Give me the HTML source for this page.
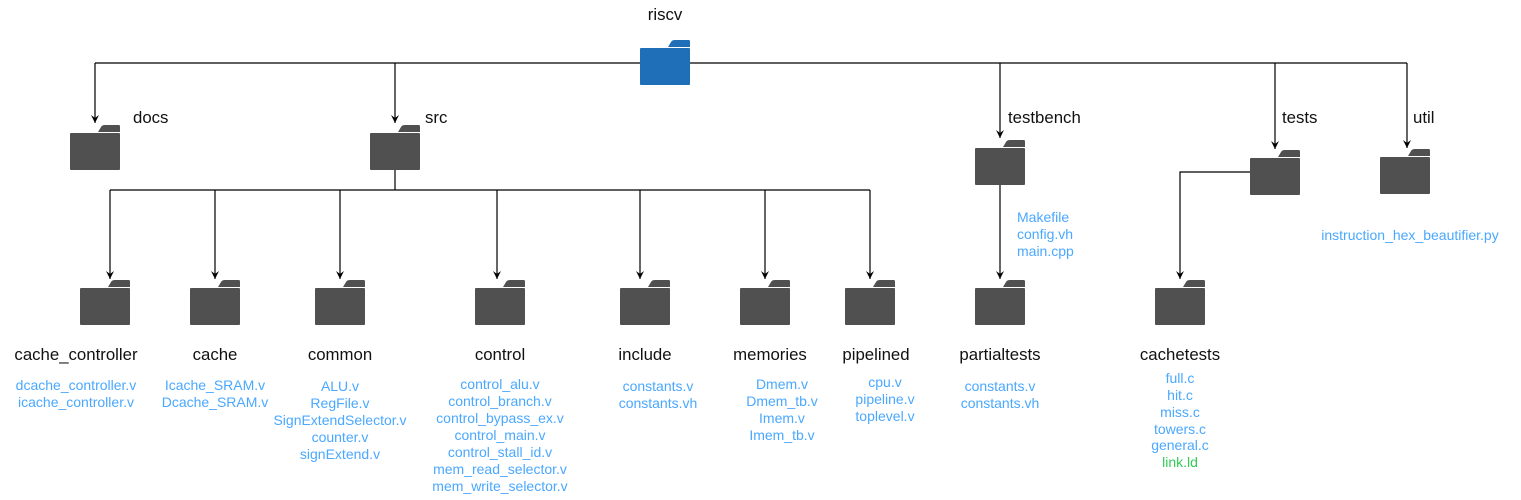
<!DOCTYPE html>
<html><head><meta charset="utf-8"><style>
html,body{margin:0;padding:0;background:#fff;}
svg{display:block;}
text{font-family:"Liberation Sans",Arial,sans-serif;}
.l{font-size:16.8px;fill:#111;}
.f{font-size:14px;fill:#4aa8ff;text-anchor:middle;}
</style></head><body>
<svg width="1521" height="500" viewBox="0 0 1521 500" xmlns="http://www.w3.org/2000/svg">
<defs>
<marker id="a" markerWidth="12" markerHeight="12" refX="8" refY="5" orient="auto" markerUnits="userSpaceOnUse">
<path d="M0,1 L8,5 L0,9 L3,5 Z" fill="#000"/>
</marker>
<g id="fold">
<path d="M28,7 L31,2 Q32,0 35,0 L49,0 Q50,0 50,2 L50,7 Z"/>
<rect x="0" y="8" width="50" height="37" rx="1"/>
</g>
</defs>
<g stroke="#000" stroke-width="1.2" fill="none">
<path d="M95,63 H1407"/>
<path d="M95,63 V123" marker-end="url(#a)"/>
<path d="M395,63 V123" marker-end="url(#a)"/>
<path d="M1000,63 V138" marker-end="url(#a)"/>
<path d="M1275,63 V149" marker-end="url(#a)"/>
<path d="M1407,63 V148" marker-end="url(#a)"/>
<path d="M395,170 V190 M110,190 H870"/>
<path d="M110,190 V279" marker-end="url(#a)"/>
<path d="M215,190 V279" marker-end="url(#a)"/>
<path d="M340,190 V279" marker-end="url(#a)"/>
<path d="M497,190 V279" marker-end="url(#a)"/>
<path d="M640,190 V279" marker-end="url(#a)"/>
<path d="M765,190 V279" marker-end="url(#a)"/>
<path d="M870,190 V279" marker-end="url(#a)"/>
<path d="M1000,185 V279" marker-end="url(#a)"/>
<path d="M1250,172 H1180 V279" marker-end="url(#a)"/>
</g>
<use href="#fold" x="640" y="40" fill="#1f6fb8"/>
<g fill="#505050">
<use href="#fold" x="70" y="125"/>
<use href="#fold" x="370" y="125"/>
<use href="#fold" x="975" y="140"/>
<use href="#fold" x="1250" y="150"/>
<use href="#fold" x="1380" y="149"/>
<use href="#fold" x="80" y="280"/>
<use href="#fold" x="190" y="280"/>
<use href="#fold" x="315" y="280"/>
<use href="#fold" x="475" y="280"/>
<use href="#fold" x="620" y="280"/>
<use href="#fold" x="740" y="280"/>
<use href="#fold" x="845" y="280"/>
<use href="#fold" x="975" y="280"/>
<use href="#fold" x="1155" y="280"/>
</g>
<g class="l">
<text x="665" y="20" text-anchor="middle">riscv</text>
<text x="133" y="123">docs</text>
<text x="425" y="123">src</text>
<text x="1008" y="123">testbench</text>
<text x="1282" y="123">tests</text>
<text x="1413" y="123">util</text>
</g>
<g class="l" text-anchor="middle">
<text x="76" y="360">cache_controller</text>
<text x="215" y="360">cache</text>
<text x="340" y="360">common</text>
<text x="500" y="360">control</text>
<text x="645" y="360">include</text>
<text x="770" y="360">memories</text>
<text x="876" y="360">pipelined</text>
<text x="1000" y="360">partialtests</text>
<text x="1180" y="360">cachetests</text>
</g>
<rect x="1012" y="207" width="75" height="52" fill="#fff"/>
<g class="f" style="text-anchor:start">
<text x="1017" y="222">Makefile</text>
<text x="1017" y="239">config.vh</text>
<text x="1017" y="256">main.cpp</text>
</g>
<g class="f">
<text x="1410" y="240">instruction_hex_beautifier.py</text>
<text x="76" y="390">dcache_controller.v</text><text x="76" y="407">icache_controller.v</text>
<text x="215" y="390">Icache_SRAM.v</text><text x="215" y="407">Dcache_SRAM.v</text>
<text x="340" y="391">ALU.v</text><text x="340" y="408">RegFile.v</text><text x="340" y="425">SignExtendSelector.v</text><text x="340" y="442">counter.v</text><text x="340" y="459">signExtend.v</text>
<text x="500" y="389">control_alu.v</text><text x="500" y="406">control_branch.v</text><text x="500" y="423">control_bypass_ex.v</text><text x="500" y="440">control_main.v</text><text x="500" y="457">control_stall_id.v</text><text x="500" y="474">mem_read_selector.v</text><text x="500" y="491">mem_write_selector.v</text>
<text x="658" y="391">constants.v</text><text x="658" y="408">constants.vh</text>
<text x="782" y="389">Dmem.v</text><text x="782" y="406">Dmem_tb.v</text><text x="782" y="423">Imem.v</text><text x="782" y="440">Imem_tb.v</text>
<text x="885" y="387">cpu.v</text><text x="885" y="404">pipeline.v</text><text x="885" y="421">toplevel.v</text>
<text x="1000" y="391">constants.v</text><text x="1000" y="408">constants.vh</text>
<text x="1180" y="383">full.c</text><text x="1180" y="400">hit.c</text><text x="1180" y="417">miss.c</text><text x="1180" y="434">towers.c</text><text x="1180" y="450">general.c</text>
<text x="1180" y="467" style="fill:#33cc55">link.ld</text>
</g>
</svg>
</body></html>
